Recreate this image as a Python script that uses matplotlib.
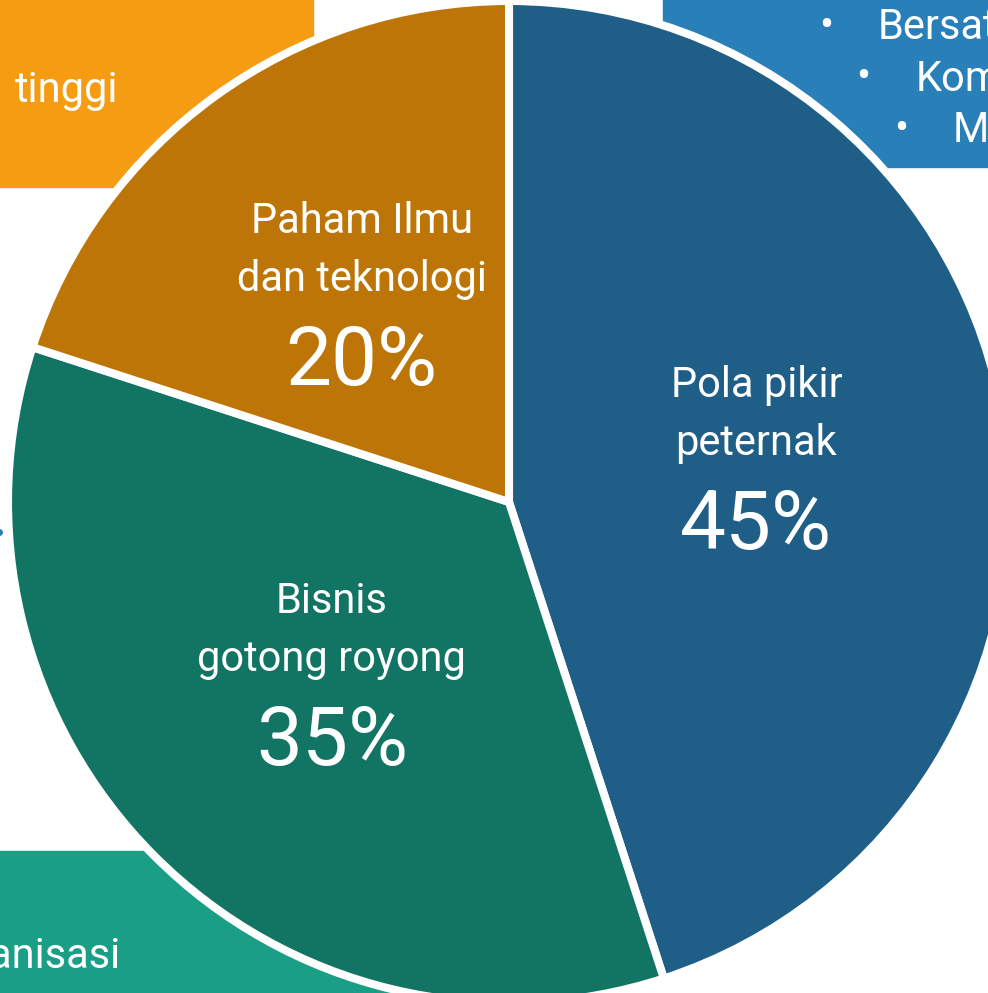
import matplotlib
matplotlib.use('Agg')
import matplotlib.pyplot as plt
import numpy as np
from matplotlib.patches import Rectangle

# slice data (clockwise from the top)
labels = ["Pola pikir\npeternak", "Bisnis\ngotong royong", "Paham Ilmu\ndan teknologi"]
shares = [45, 35, 20]
colors = ["#1F5E87", "#127563", "#BE7507"]

# side notes partly visible around the pie
note_orange = "tinggi"
note_teal = "Organisasi"
note_blue = ["Bersatu", "Kompak", "Mengikuti"]

plt.rcParams['font.family'] = ['Roboto', 'DejaVu Sans']

W, H = 988, 993
fig = plt.figure(figsize=(W / 100, H / 100), dpi=100)
ax = fig.add_axes([0, 0, 1, 1])

cx, cy, R = 509, H - 502, 501
TXT = dict(color='white', fontsize=30, fontweight='normal', va='baseline')

# coloured boxes behind the pie
ax.add_patch(Rectangle((-10, H - 187), 323, 200, color="#F59C12", zorder=0))
ax.add_patch(Rectangle((663, H - 167), 340, 180, color="#2980B9", zorder=0))
ax.add_patch(Rectangle((-10, -10), 520, H - 851 + 10, color="#1A9E85", zorder=0))

ax.text(15, H - 102, note_orange, ha='left', zorder=1, **TXT)
ax.text(121, H - 968, note_teal, ha='right', zorder=1, **TXT)
for i, txt in enumerate(note_blue):
    bx = 826 + 37.5 * i
    by = H - (39 + 51.5 * i)
    ax.text(bx, by + 1, "\u2022", color='white', fontsize=30, ha='center',
            va='baseline', zorder=1)
    ax.text(bx + 52, by, txt, ha='left', zorder=1, **TXT)
ax.plot([-1], [H - 532], marker='o', ms=4, color="#2980B9", zorder=1, clip_on=False)

wedges, _ = ax.pie(shares, colors=colors, startangle=90, counterclock=False,
                   center=(cx, cy), radius=R, frame=True,
                   wedgeprops=dict(edgecolor='white', linewidth=5.8))
for w in wedges:
    w.set_zorder(2)

# labels placed half way out along each wedge's mid angle
for w, lab, pct in zip(wedges, labels, shares):
    ang = np.deg2rad((w.theta1 + w.theta2) / 2)
    x = cx + 0.5 * R * np.cos(ang)
    y = cy + 0.5 * R * np.sin(ang)
    line1, line2 = lab.split("\n")
    ax.annotate(line1, (x, y), xytext=(0, 47.5), textcoords='offset points',
                ha='center', zorder=3, **TXT)
    ax.annotate(line2, (x, y), xytext=(0, 5.8), textcoords='offset points',
                ha='center', zorder=3, **TXT)
    ax.annotate(f"{pct}%", (x, y), xytext=(0, -62), textcoords='offset points',
                ha='center', va='baseline', color='white', fontsize=59,
                fontweight='normal', zorder=3)

ax.set_xlim(0, W)
ax.set_ylim(0, H)
ax.set_aspect('equal')
ax.axis('off')

fig.savefig("out.png", dpi=100)
